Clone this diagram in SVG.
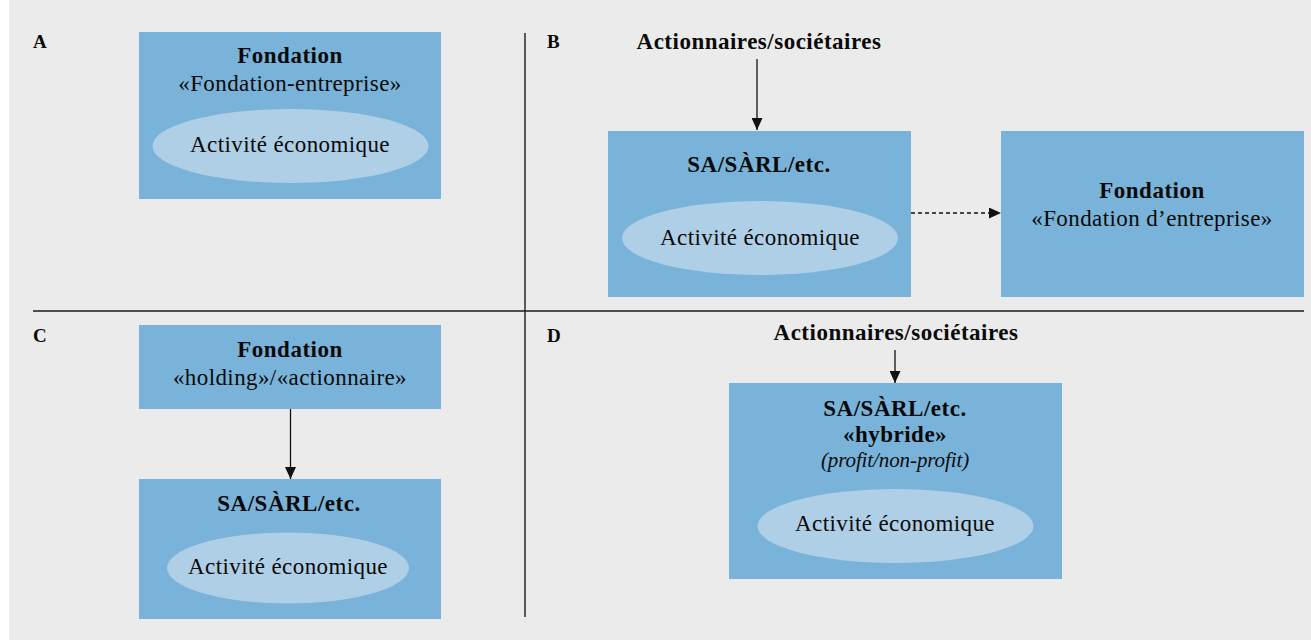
<svg xmlns="http://www.w3.org/2000/svg" width="1311" height="641" viewBox="0 0 1311 641">
<defs>
<style>
.box{fill:#79b3d9}
.ell{fill:#afcfe7}
text{font-family:"Liberation Serif","Times New Roman",serif;fill:#0a0a0a;text-anchor:middle;font-size:23px;letter-spacing:0.4px}
.b{font-weight:bold;letter-spacing:0.5px}
.i{font-style:italic;font-size:21px;letter-spacing:-0.1px}
.lbl{font-weight:bold;font-size:19px;text-anchor:start;letter-spacing:0}
.sep{stroke:#1a1a1a;stroke-width:1.4;fill:none}
.conn{stroke:#111;stroke-width:1.3;fill:none}
.dash{stroke-dasharray:4 3}
</style>
<marker id="ah" viewBox="0 0 12 11" refX="12" refY="5.5" markerWidth="12" markerHeight="11" markerUnits="userSpaceOnUse" orient="auto">
<path d="M0,0 L12,5.5 L0,11 Z" fill="#111"/>
</marker>
</defs>
<rect x="0" y="0" width="1311" height="641" fill="#ffffff"/>
<rect x="9" y="0" width="1302" height="640" fill="#ebebeb"/>
<g id="separators">
<line class="sep" x1="33" y1="311" x2="1304" y2="311"/>
<line class="sep" x1="525" y1="33" x2="525" y2="617"/>
</g>
<g id="labels">
<text class="lbl" x="33" y="48">A</text>
<text class="lbl" x="547" y="48">B</text>
<text class="lbl" x="33" y="342">C</text>
<text class="lbl" x="547" y="342">D</text>
</g>
<g id="nodeA-fondation">
<rect class="box" x="139" y="32" width="302" height="167"/>
<text class="b" x="290" y="63">Fondation</text>
<text x="290" y="91">«Fondation-entreprise»</text>
<ellipse class="ell" cx="290.5" cy="146" rx="138" ry="37"/>
<text x="290" y="152">Activité économique</text>
</g>
<g id="nodeB-actionnaires">
<text class="b" x="759" y="49">Actionnaires/sociétaires</text>
</g>
<g id="nodeB-sa">
<rect class="box" x="608" y="131" width="303" height="166"/>
<text class="b" x="759" y="172">SA/SÀRL/etc.</text>
<ellipse class="ell" cx="760" cy="238" rx="138" ry="37"/>
<text x="760" y="245">Activité économique</text>
</g>
<g id="nodeB-fondation">
<rect class="box" x="1001" y="131" width="303" height="166"/>
<text class="b" x="1152" y="198">Fondation</text>
<text x="1152" y="226">«Fondation d’entreprise»</text>
</g>
<g id="nodeC-fondation">
<rect class="box" x="139" y="325" width="302" height="84"/>
<text class="b" x="290" y="357">Fondation</text>
<text x="290" y="385">«holding»/«actionnaire»</text>
</g>
<g id="nodeC-sa">
<rect class="box" x="139" y="479" width="302" height="140"/>
<text class="b" x="289" y="511">SA/SÀRL/etc.</text>
<ellipse class="ell" cx="288" cy="568" rx="121" ry="35.5"/>
<text x="288" y="574">Activité économique</text>
</g>
<g id="nodeD-actionnaires">
<text class="b" x="896" y="340">Actionnaires/sociétaires</text>
</g>
<g id="nodeD-sa">
<rect class="box" x="729" y="383" width="333" height="196"/>
<text class="b" x="895" y="416">SA/SÀRL/etc.</text>
<text class="b" x="895" y="442">«hybride»</text>
<text class="i" x="895" y="467">(profit/non-profit)</text>
<ellipse class="ell" cx="895.5" cy="526" rx="138" ry="37"/>
<text x="895" y="531">Activité économique</text>
</g>
<g id="connectors">
<line class="conn" x1="757" y1="59" x2="757" y2="130" marker-end="url(#ah)"/>
<line class="conn dash" x1="911" y1="213" x2="1001" y2="213" marker-end="url(#ah)"/>
<line class="conn" x1="290.5" y1="409" x2="290.5" y2="479" marker-end="url(#ah)"/>
<line class="conn" x1="895" y1="350" x2="895" y2="383" marker-end="url(#ah)"/>
</g>
</svg>
